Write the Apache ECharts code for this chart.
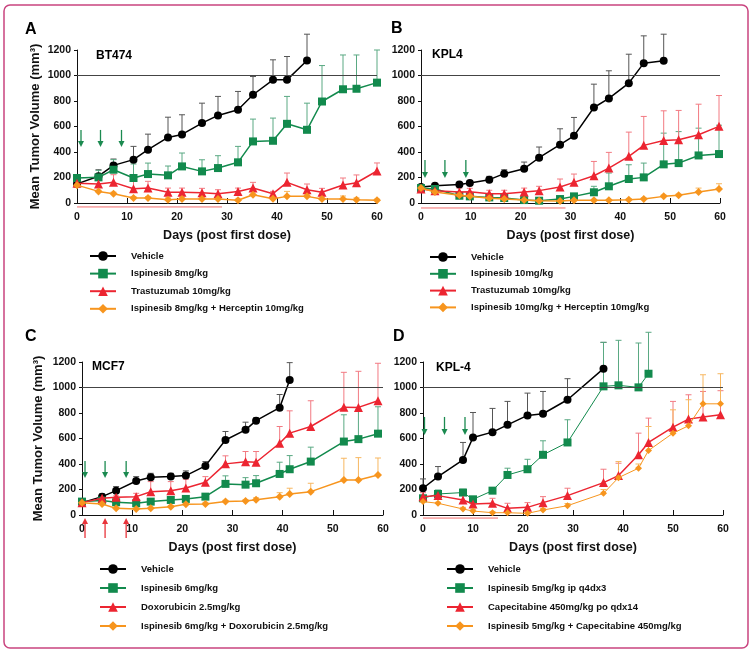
<!DOCTYPE html>
<html><head><meta charset="utf-8">
<script src="https://cdn.jsdelivr.net/npm/echarts@6/dist/echarts.min.js"></script>
<style>html,body{margin:0;padding:0;background:#fff}#c{width:753px;height:654px}</style>
</head><body><div id="c"></div>
<script>
// ---------- Tick labels / axis text ----------
const xTicks = [0, 10, 20, 30, 40, 50, 60];
const yTicks = [0, 200, 400, 600, 800, 1000, 1200];
const yTitle = 'Mean Tumor Volume (mm\u00B3)';
const xTitle = 'Days (post first dose)';

// ---------- Panel A : BT474 ----------
const A_vehDays = [0, 4.3, 7.3, 11.3, 14.2, 18.2, 21, 25, 28.2, 32.2, 35.2, 39.2, 42, 46];
const A_veh     = [150, 210, 295, 340, 418, 514, 538, 627, 687, 731, 849, 966, 966, 1117];
const A_vehUp   = [170, 261, 345, 444, 540, 673, 692, 783, 836, 875, 992, 1123, 1149, 1324];
const A_days    = [0, 4.3, 7.3, 11.3, 14.2, 18.2, 21, 25, 28.2, 32.2, 35.2, 39.2, 42, 46, 49, 53.2, 55.9, 60];
const A_isp     = [196, 201, 261, 196, 227, 217, 287, 248, 274, 319, 483, 488, 621, 574, 796, 892, 896, 944];
const A_ispUp   = [215, 256, 340, 306, 313, 290, 392, 339, 371, 444, 658, 666, 836, 783, 1078, 1161, 1161, 1200];
const A_tra     = [155, 149, 162, 112, 117, 84, 84, 80, 73, 91, 117, 73, 162, 104, 84, 141, 159, 251];
const A_traUp   = [175, 180, 222, 170, 170, 117, 117, 115, 104, 117, 162, 91, 235, 149, 115, 196, 220, 314];
const A_combo   = [140, 91, 73, 39, 39, 26, 31, 31, 31, 21, 65, 34, 52, 52, 31, 31, 26, 22];
const A_comboUp = [150, 100, 85, 50, 50, 40, 45, 45, 42, 30, 91, 50, 91, 70, 45, 55, 40, 30];
const A_names   = ['Vehicle', 'Ispinesib 8mg/kg', 'Trastuzumab 10mg/kg', 'Ispinesib 8mg/kg + Herceptin 10mg/kg'];
const A_arrowDays = [0.8, 4.7, 8.9];
const A_arrowFromTo = [573, 439];
const A_treatDays = [0, 29];

// ---------- Panel B : KPL4 ----------
const B_vehDays = [0, 2.8, 7.7, 9.8, 13.7, 16.7, 20.7, 23.7, 27.9, 30.7, 34.7, 37.7, 41.7, 44.7, 48.7];
const B_veh     = [125, 136, 146, 157, 183, 230, 269, 355, 457, 527, 749, 820, 940, 1097, 1115];
const B_vehUp   = [140, 151, 160, 175, 209, 261, 321, 439, 582, 671, 932, 1037, 1167, 1311, 1324];
const B_days    = [0, 2.8, 7.7, 9.8, 13.7, 16.7, 20.7, 23.7, 27.9, 30.7, 34.7, 37.7, 41.7, 44.7, 48.7, 51.7, 55.7, 59.8];
const B_isp     = [117, 110, 57, 52, 44, 39, 23, 18, 31, 52, 84, 131, 188, 201, 303, 313, 373, 384];
const B_ispUp   = [130, 125, 70, 65, 55, 50, 30, 25, 40, 65, 131, 235, 300, 313, 548, 560, 587, 610];
const B_tra     = [110, 97, 86, 89, 73, 73, 86, 97, 125, 162, 214, 274, 366, 452, 491, 496, 535, 601];
const B_traUp   = [125, 110, 117, 115, 100, 100, 117, 131, 188, 227, 326, 397, 556, 679, 723, 726, 775, 843];
const B_combo   = [117, 86, 60, 52, 37, 31, 23, 18, 16, 21, 21, 21, 26, 31, 52, 60, 86, 110];
const B_comboUp = [125, 95, 70, 60, 45, 40, 30, 25, 22, 28, 28, 28, 33, 40, 62, 70, 117, 151];
const B_names   = ['Vehicle', 'Ispinesib 10mg/kg', 'Trastuzumab 10mg/kg', 'Ispinesib 10mg/kg + Herceptin 10mg/kg'];
const B_arrowDays = [0.8, 4.8, 9.0];
const B_arrowFromTo = [337, 196];
const B_treatDays = [0, 29];

// ---------- Panel C : MCF7 ----------
const C_vehDays = [0, 4, 6.8, 10.8, 13.7, 17.7, 20.7, 24.6, 28.6, 32.6, 34.7, 39.4, 41.4];
const C_veh     = [97, 144, 191, 267, 296, 301, 309, 385, 588, 668, 740, 842, 1058];
const C_vehUp   = [105, 165, 223, 301, 327, 327, 346, 419, 655, 728, 762, 945, 1195];
const C_days    = [0, 4, 6.8, 10.8, 13.7, 17.7, 20.7, 24.6, 28.6, 32.6, 34.7, 39.4, 41.4, 45.6, 52.2, 55.1, 59];
const C_isp     = [105, 113, 100, 92, 105, 118, 126, 144, 244, 238, 249, 322, 359, 419, 576, 595, 638];
const C_ispUp   = [115, 125, 112, 105, 118, 130, 140, 160, 307, 293, 309, 414, 466, 532, 786, 825, 849];
const C_tra     = [97, 131, 139, 144, 183, 191, 212, 257, 401, 417, 414, 563, 642, 694, 846, 844, 896];
const C_traUp   = [105, 140, 150, 170, 262, 262, 280, 301, 464, 498, 498, 694, 817, 896, 1119, 1127, 1190];
const C_combo   = [97, 86, 52, 47, 52, 65, 84, 86, 105, 110, 120, 144, 165, 183, 275, 275, 314];
const C_comboUp = [105, 95, 60, 55, 60, 75, 95, 100, 115, 120, 135, 175, 210, 249, 445, 450, 447];
const C_names   = ['Vehicle', 'Ispinesib 6mg/kg', 'Doxorubicin 2.5mg/kg', 'Ispinesib 6mg/kg + Doxorubicin 2.5mg/kg'];
const C_arrowDays = [0.6, 4.6, 8.8];
const C_arrowFromTo = [424, 290];
const C_redArrowFromTo = [-180, -24];

// ---------- Panel D : KPL-4 ----------
const D_vehDays = [0, 3, 8, 10, 13.9, 16.9, 20.9, 24, 28.9, 36.1];
const D_veh     = [210, 301, 432, 608, 650, 707, 781, 794, 904, 1148];
const D_vehUp   = [283, 380, 569, 804, 836, 891, 956, 969, 1069, 1354];
const D_ispDays = [0, 3, 8, 10, 13.9, 16.9, 20.9, 24, 28.9, 36.1, 39.1, 43.1, 45.1];
const D_isp     = [131, 165, 176, 123, 191, 314, 359, 472, 569, 1009, 1017, 1001, 1108];
const D_ispUp   = [150, 196, 202, 140, 210, 367, 437, 582, 747, 1354, 1370, 1349, 1433];
const D_days    = [0, 3, 8, 10, 13.9, 16.9, 20.9, 24, 28.9, 36.1, 39.1, 43.1, 45.1, 50, 53.1, 56, 59.5];
const D_tra     = [144, 152, 118, 86, 92, 52, 60, 97, 152, 254, 309, 472, 569, 689, 752, 768, 786];
const D_traUp   = [175, 190, 157, 131, 131, 92, 97, 144, 210, 359, 406, 642, 760, 891, 943, 969, 975];
const D_combo   = [105, 92, 47, 31, 18, 18, 13, 39, 73, 170, 293, 367, 506, 642, 700, 872, 872];
const D_comboUp = [115, 100, 60, 45, 28, 28, 22, 50, 90, 200, 419, 400, 694, 825, 904, 1100, 1108];
const D_names   = ['Vehicle', 'Ispinesib 5mg/kg ip q4dx3', 'Capecitabine 450mg/kg po qdx14', 'Ispinesib 5mg/kg + Capecitabine 450mg/kg'];
const D_arrowDays = [0.3, 4.3, 8.4];
const D_arrowFromTo = [769, 627];
const D_treatDays = [0, 15];

const panelLetters = ['A', 'B', 'C', 'D'];
const cellLines = ['BT474', 'KPL4', 'MCF7', 'KPL-4'];

// ---------- Styling ----------
const FONT = '"Liberation Sans", Arial, Helvetica, sans-serif';
const COL = { veh: '#000000', isp: '#128a4d', tra: '#ec2531', combo: '#f7951e' };
const ERR = { veh: '#555555', isp: '#5aa983', tra: '#f27a82', combo: '#f7b760' };
const SYM = { veh: 'circle', isp: 'rect', tra: 'triangle', combo: 'diamond' };
const SSZ = { veh: 8, isp: 8, tra: 9, combo: 8 };
const TREAT = '#f36b6b';
const ARROW_G = '#1b8a50';
const ARROW_R = '#e8333a';

const grids = [
  { left: 77, top: 50, width: 300, height: 153 },
  { left: 421, top: 50, width: 299, height: 153 },
  { left: 82, top: 362, width: 301, height: 153 },
  { left: 423, top: 362, width: 300, height: 153 }
];

const panels = [
  { names: A_names, groups: [
      ['veh', A_vehDays, A_veh, A_vehUp], ['isp', A_days, A_isp, A_ispUp],
      ['tra', A_days, A_tra, A_traUp], ['combo', A_days, A_combo, A_comboUp]],
    arrows: A_arrowDays.map(d => [d, A_arrowFromTo[0], A_arrowFromTo[1]]), redArrows: [],
    treat: A_treatDays, treatY: -31, yTitle: true, yGap: 35.5, thin: false,
    legend: { left: 89, top: 251, gap: 7.6 } },
  { names: B_names, groups: [
      ['veh', B_vehDays, B_veh, B_vehUp], ['isp', B_days, B_isp, B_ispUp],
      ['tra', B_days, B_tra, B_traUp], ['combo', B_days, B_combo, B_comboUp]],
    arrows: B_arrowDays.map(d => [d, B_arrowFromTo[0], B_arrowFromTo[1]]), redArrows: [],
    treat: B_treatDays, treatY: -39, yTitle: false, yGap: 35, thin: false,
    legend: { left: 429, top: 252, gap: 6.8 } },
  { names: C_names, groups: [
      ['veh', C_vehDays, C_veh, C_vehUp], ['isp', C_days, C_isp, C_ispUp],
      ['tra', C_days, C_tra, C_traUp], ['combo', C_days, C_combo, C_comboUp]],
    arrows: C_arrowDays.map(d => [d, C_arrowFromTo[0], C_arrowFromTo[1]]),
    redArrows: C_arrowDays.map(d => [d, C_redArrowFromTo[0], C_redArrowFromTo[1]]),
    treat: null, treatY: 0, yTitle: true, yGap: 37.5, thin: false,
    legend: { left: 99, top: 564, gap: 9 } },
  { names: D_names, groups: [
      ['veh', D_vehDays, D_veh, D_vehUp], ['isp', D_ispDays, D_isp, D_ispUp],
      ['tra', D_days, D_tra, D_traUp], ['combo', D_days, D_combo, D_comboUp]],
    arrows: D_arrowDays.map(d => [d, D_arrowFromTo[0], D_arrowFromTo[1]]), redArrows: [],
    treat: D_treatDays, treatY: -24, yTitle: false, yGap: 35, thin: true,
    legend: { left: 446, top: 564, gap: 9 } }
];

function errRender(color) {
  return function (params, api) {
    const x = api.value(0), m = api.value(1), u = api.value(2);
    const p0 = api.coord([x, m]), p1 = api.coord([x, u]);
    return { type: 'group', children: [
      { type: 'line', shape: { x1: p0[0], y1: p0[1], x2: p1[0], y2: p1[1] }, style: { stroke: color, lineWidth: 1 } },
      { type: 'line', shape: { x1: p1[0] - 3, y1: p1[1], x2: p1[0] + 3, y2: p1[1] }, style: { stroke: color, lineWidth: 1 } }
    ] };
  };
}
function arrowRender(color) {
  return function (params, api) {
    const x = api.value(0), a = api.value(1), b = api.value(2);
    const p0 = api.coord([x, a]), p1 = api.coord([x, b]);
    const dir = p1[1] > p0[1] ? 1 : -1;
    const h = 6, w = 3;
    return { type: 'group', children: [
      { type: 'line', shape: { x1: p0[0], y1: p0[1], x2: p1[0], y2: p1[1] - dir * h * 0.6 }, style: { stroke: color, lineWidth: 1.3 } },
      { type: 'polygon', shape: { points: [[p1[0], p1[1]], [p1[0] - w, p1[1] - dir * h], [p1[0] + w, p1[1] - dir * h]] }, style: { fill: color } }
    ] };
  };
}

const xAxes = [], yAxes = [], series = [], legends = [];
panels.forEach((p, g) => {
  xAxes.push({
    gridIndex: g, type: 'value', min: xTicks[0], max: xTicks[xTicks.length - 1], interval: 10,
    name: xTitle, nameLocation: 'middle', nameGap: 26,
    nameTextStyle: { fontFamily: FONT, fontWeight: 'bold', fontSize: 12.5, color: '#111' },
    axisLine: { show: true, onZero: false, lineStyle: { color: '#111', width: 1 } },
    axisTick: { show: true, inside: true, length: 5, lineStyle: { color: '#111' } },
    axisLabel: { fontFamily: FONT, fontWeight: 'bold', fontSize: 10.5, color: '#111', margin: 9,
      formatter: v => String(v) },
    splitLine: { show: false }
  });
  yAxes.push({
    gridIndex: g, type: 'value', min: yTicks[0], max: yTicks[yTicks.length - 1], interval: 200,
    name: p.yTitle ? yTitle : '', nameLocation: 'middle', nameGap: p.yGap,
    nameTextStyle: { fontFamily: FONT, fontWeight: 'bold', fontSize: 13, color: '#111' },
    axisLine: { show: true, lineStyle: { color: '#111', width: 1 } },
    axisTick: { show: true, inside: false, length: 3, lineStyle: { color: '#111' } },
    axisLabel: { fontFamily: FONT, fontWeight: 'bold', fontSize: 10.5, color: '#111', margin: 6,
      formatter: v => String(v) },
    splitLine: { show: false }
  });
  // error bars first
  p.groups.forEach((gr, k) => {
    const key = gr[0];
    series.push({
      type: 'custom', name: p.names[k] + ' SD', xAxisIndex: g, yAxisIndex: g, z: 2, silent: true, clip: false,
      data: gr[1].map((d, i) => [d, gr[2][i], gr[3][i]]),
      encode: { x: 0, y: 1 },
      renderItem: errRender(ERR[key])
    });
  });
  p.groups.forEach((gr, k) => {
    const key = gr[0];
    const thin = p.thin && (key === 'isp' || key === 'combo');
    const s = {
      type: 'line', name: p.names[k], xAxisIndex: g, yAxisIndex: g, z: 3 + k, clip: false,
      data: gr[1].map((d, i) => [d, gr[2][i]]),
      symbol: SYM[key], symbolSize: thin && key === 'combo' ? 7 : SSZ[key], showSymbol: true,
      itemStyle: { color: COL[key] },
      lineStyle: { color: COL[key], width: thin ? 1 : 1.5 },
      emphasis: { disabled: true }
    };
    if (key === 'veh') {
      s.markLine = { silent: true, symbol: ['none', 'none'], label: { show: false },
        lineStyle: { color: '#444', width: 1, type: 'solid' }, emphasis: { disabled: true },
        data: [{ yAxis: 1000 }] };
    }
    series.push(s);
  });
  series.push({ type: 'custom', name: 'arrows' + g, xAxisIndex: g, yAxisIndex: g, z: 6, silent: true, clip: false,
    data: p.arrows, encode: { x: 0, y: 1 }, renderItem: arrowRender(ARROW_G) });
  if (p.redArrows.length) {
    series.push({ type: 'custom', name: 'redarrows' + g, xAxisIndex: g, yAxisIndex: g, z: 6, silent: true, clip: false,
      data: p.redArrows, encode: { x: 0, y: 1 }, renderItem: arrowRender(ARROW_R) });
  }
  if (p.treat) {
    series.push({ type: 'line', name: 'treat' + g, xAxisIndex: g, yAxisIndex: g, z: 1, silent: true, clip: false,
      data: p.treat.map(d => [d, p.treatY]), symbol: 'none',
      lineStyle: { color: TREAT, width: 1 } });
  }
  legends.push({
    data: p.names, orient: 'vertical', left: p.legend.left, top: p.legend.top, padding: 0,
    itemWidth: 26, itemHeight: 12, itemGap: p.legend.gap, selectedMode: false,
    textStyle: { fontFamily: FONT, fontWeight: 'bold', fontSize: 9.5, color: '#111', padding: [0, 0, 0, 10] }
  });
});

const letterPos = [[25, 30], [391, 29], [25, 337], [393, 337]];
const cellPos = [[96, 56], [432, 55], [92, 367], [436, 368]];
const graphic = [
  { type: 'rect', shape: { x: 4, y: 5, width: 744, height: 643, r: 6 }, style: { fill: 'none', stroke: '#c9447f', lineWidth: 1.5 }, silent: true }
];
panelLetters.forEach((t, i) => graphic.push({ type: 'text', x: letterPos[i][0], y: letterPos[i][1], silent: true,
  style: { text: t, font: 'bold 16px ' + FONT, fill: '#000', verticalAlign: 'middle' } }));
cellLines.forEach((t, i) => graphic.push({ type: 'text', x: cellPos[i][0], y: cellPos[i][1], silent: true,
  style: { text: t, font: 'bold 12px ' + FONT, fill: '#000', verticalAlign: 'middle' } }));

const chart = echarts.init(document.getElementById('c'), null, { renderer: 'canvas' });
chart.setOption({
  animation: false,
  backgroundColor: '#ffffff',
  textStyle: { fontFamily: FONT },
  grid: grids.map(g => Object.assign({ outerBoundsMode: 'none', containLabel: false }, g)),
  xAxis: xAxes, yAxis: yAxes, legend: legends, series: series, graphic: graphic
});
</script></body></html>
